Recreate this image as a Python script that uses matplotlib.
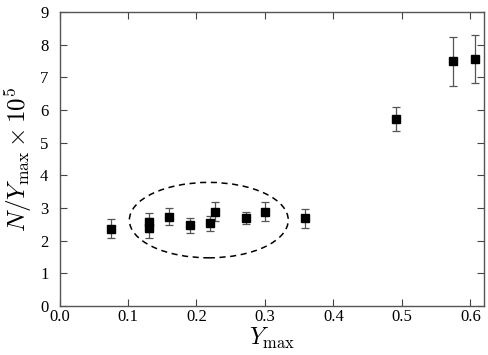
import numpy as np
import matplotlib
matplotlib.use("Agg")
import matplotlib.pyplot as plt
from matplotlib.patches import Ellipse

plt.rcParams['font.family'] = ['Liberation Serif', 'DejaVu Serif']
plt.rcParams['mathtext.fontset'] = 'cm'

# measured points
y_max = [0.075, 0.130, 0.130, 0.160, 0.190, 0.220, 0.227, 0.272, 0.300, 0.359, 0.492, 0.574, 0.607]
n_over_y = [2.36, 2.56, 2.39, 2.74, 2.47, 2.54, 2.89, 2.70, 2.89, 2.68, 5.73, 7.49, 7.56]
err = [0.29, 0.30, 0.30, 0.26, 0.24, 0.23, 0.28, 0.18, 0.28, 0.30, 0.36, 0.75, 0.74]

# dashed ellipse around the cluster
ell_center = (0.218, 2.63)
ell_width = 0.232
ell_height = 2.31

fig = plt.figure(figsize=(4.88, 3.55), dpi=100)
ax = fig.add_axes([0.122, 0.138, 0.870, 0.828])

ax.errorbar(y_max, n_over_y, yerr=err, fmt='s', color='black', markersize=5.5,
            ecolor='#555555', elinewidth=0.9, capsize=3, capthick=0.9)

ax.add_patch(Ellipse(ell_center, ell_width, ell_height, fill=False,
                     linestyle=(0, (4, 3)), linewidth=1.1, edgecolor='black'))

ax.set_xlim(0, 0.62)
ax.set_ylim(0, 9)
ax.set_xticks(np.arange(0, 0.61, 0.1))
ax.set_xticklabels(['0.0', '0.1', '0.2', '0.3', '0.4', '0.5', '0.6'])
ax.set_yticks(range(10))
ax.tick_params(direction='in', top=True, right=True, labelsize=12, length=5,
               color='#444444', width=0.8)
ax.tick_params(axis='y', pad=8)
ax.tick_params(axis='x', pad=2)
for s in ax.spines.values():
    s.set_color('#555555')
    s.set_linewidth(1.0)

ax.set_xlabel(r'$Y_{\rm max}$', fontsize=17, labelpad=1)
ax.set_ylabel(r'$N/Y_{\rm max}\times10^5$', fontsize=18, labelpad=4)

fig.savefig('out.png', dpi=100)
